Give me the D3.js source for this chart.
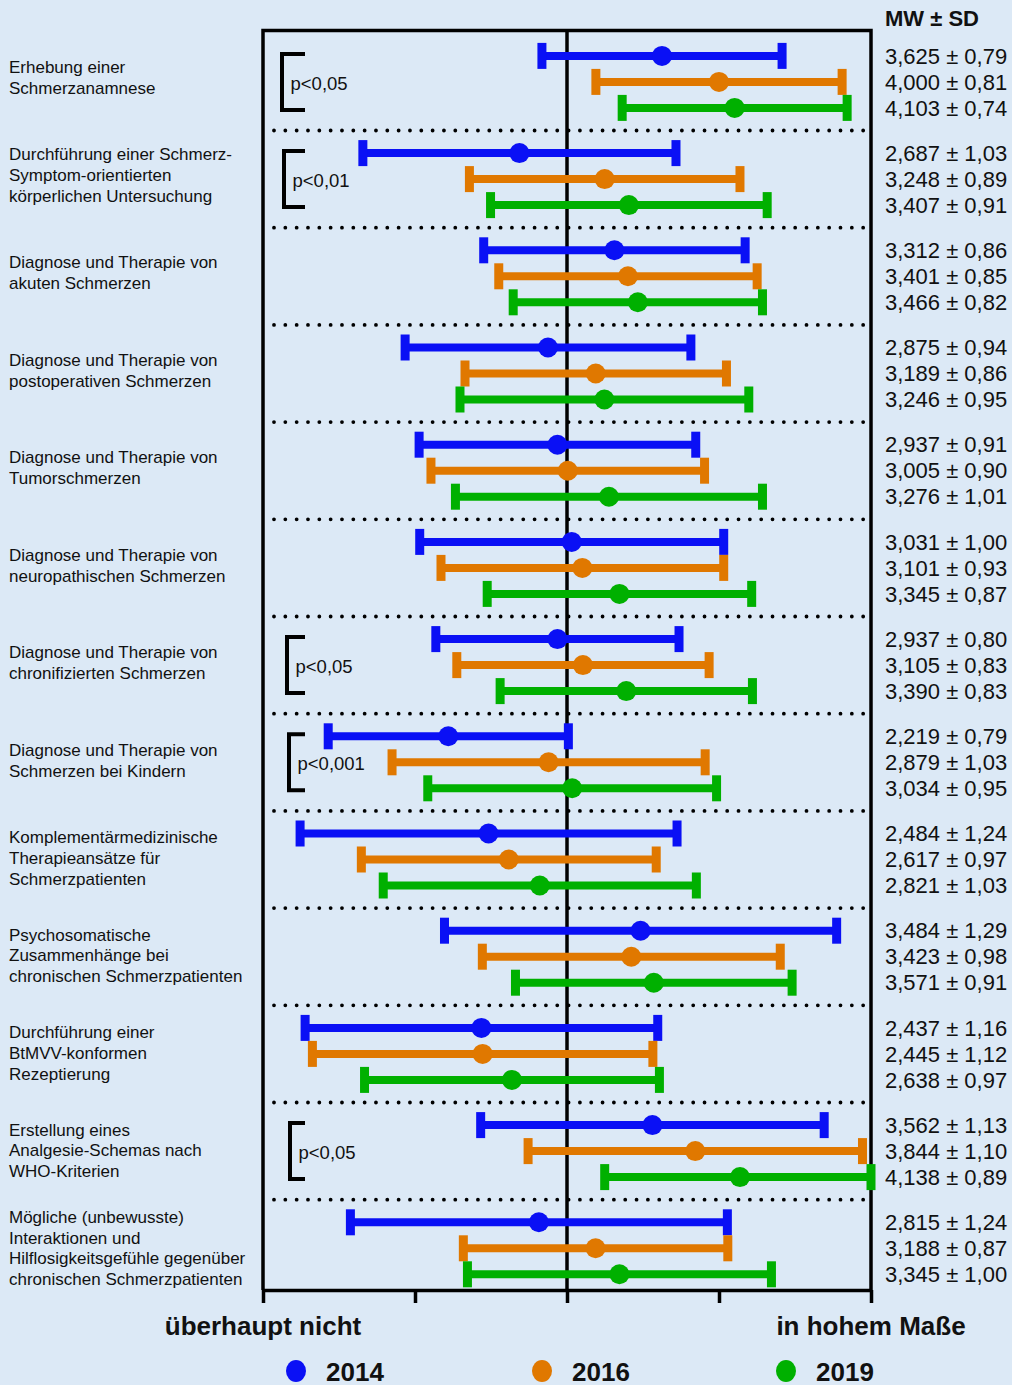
<!DOCTYPE html>
<html lang="de">
<head>
<meta charset="utf-8">
<title>Schmerzmedizinische Kompetenzen 2014 – 2016 – 2019</title>
<script src="https://cdn.jsdelivr.net/npm/d3@7"></script>
<style>
  html, body { margin: 0; padding: 0; background: #dce9f6; }
  svg { display: block; font-family: "Liberation Sans", Arial, Helvetica, sans-serif; }
</style>
</head>
<body>
<svg id="chart" width="1012" height="1385"></svg>
<script>
// ---- data -------------------------------------------------------------
const categories = [
  ["Erhebung einer", "Schmerzanamnese"],
  ["Durchführung einer Schmerz-", "Symptom-orientierten", "körperlichen Untersuchung"],
  ["Diagnose und Therapie von", "akuten Schmerzen"],
  ["Diagnose und Therapie von", "postoperativen Schmerzen"],
  ["Diagnose und Therapie von", "Tumorschmerzen"],
  ["Diagnose und Therapie von", "neuropathischen Schmerzen"],
  ["Diagnose und Therapie von", "chronifizierten Schmerzen"],
  ["Diagnose und Therapie von", "Schmerzen bei Kindern"],
  ["Komplementärmedizinische", "Therapieansätze für", "Schmerzpatienten"],
  ["Psychosomatische", "Zusammenhänge bei", "chronischen Schmerzpatienten"],
  ["Durchführung einer", "BtMVV-konformen", "Rezeptierung"],
  ["Erstellung eines", "Analgesie-Schemas nach", "WHO-Kriterien"],
  ["Mögliche (unbewusste)", "Interaktionen und", "Hilflosigkeitsgefühle gegenüber", "chronischen Schmerzpatienten"]
];

const years = ["2014", "2016", "2019"];

const mean2014 = [3.625, 2.687, 3.312, 2.875, 2.937, 3.031, 2.937, 2.219, 2.484, 3.484, 2.437, 3.562, 2.815];
const sd2014   = [0.79, 1.03, 0.86, 0.94, 0.91, 1.00, 0.80, 0.79, 1.24, 1.29, 1.16, 1.13, 1.24];
const mean2016 = [4.000, 3.248, 3.401, 3.189, 3.005, 3.101, 3.105, 2.879, 2.617, 3.423, 2.445, 3.844, 3.188];
const sd2016   = [0.81, 0.89, 0.85, 0.86, 0.90, 0.93, 0.83, 1.03, 0.97, 0.98, 1.12, 1.10, 0.87];
const mean2019 = [4.103, 3.407, 3.466, 3.246, 3.276, 3.345, 3.390, 3.034, 2.821, 3.571, 2.638, 4.138, 3.345];
const sd2019   = [0.74, 0.91, 0.82, 0.95, 1.01, 0.87, 0.83, 0.95, 1.03, 0.91, 0.97, 0.89, 1.00];

const pValues = ["p<0,05", "p<0,01", null, null, null, null, "p<0,05", "p<0,001", null, null, null, "p<0,05", null];

const scaleTicks = [1, 2, 3, 4, 5];
const scaleEnds = ["überhaupt nicht", "in hohem Maße"];
const statsHeader = "MW ± SD";

// ---- layout -----------------------------------------------------------
const colors = { "2014": "#0a10f5", "2016": "#e07800", "2019": "#00b000" };
const plot = { left: 263, right: 871, top: 30.5, bottom: 1290 };
const bracketLeft = [282, 284, 0, 0, 0, 0, 287, 289, 0, 0, 0, 290, 0];

const svg = d3.select("#chart");
svg.append("rect").attr("width", 1012).attr("height", 1385).attr("fill", "#dce9f6");

const x = d3.scaleLinear().domain([1, 5]).range([plot.left, plot.right]);
const yGroup = d3.scaleBand().domain(d3.range(categories.length)).range([33.3, 33.3 + 97.2 * categories.length]);
const yRow = d3.scalePoint().domain(years).range([-26, 26]);
const yLabel = d3.scaleLinear().domain([0, categories.length - 1]).range([83.5, 1254]);

const locale = d3.formatLocale({ decimal: ",", thousands: ".", grouping: [3], currency: ["", " €"] });
const fMean = locale.format(".3f");
const fSd = locale.format(".2f");

const rows = [];
const series = { "2014": [mean2014, sd2014], "2016": [mean2016, sd2016], "2019": [mean2019, sd2019] };
categories.forEach((c, i) => {
  years.forEach(yr => {
    const m = series[yr][0][i], s = series[yr][1][i];
    rows.push({ group: i, year: yr, mean: m, sd: s });
  });
});
const rowY = d => yGroup(d.group) + yGroup.bandwidth() / 2 + yRow(d.year);
const clamp = v => Math.max(1, Math.min(5, v));

// ---- frame, centre line, separators ----------------------------------
const frame = svg.append("g").attr("stroke", "#000").attr("fill", "none");
frame.append("path")
  .attr("d", `M${plot.left},${plot.bottom}V${plot.top}H${plot.right}V${plot.bottom}`)
  .attr("stroke-width", 3.5);
frame.append("line")
  .attr("x1", x(3)).attr("x2", x(3)).attr("y1", plot.top).attr("y2", plot.bottom)
  .attr("stroke-width", 3.5);

svg.append("g")
  .selectAll("line")
  .data(d3.range(1, categories.length))
  .join("line")
  .attr("x1", 274).attr("x2", 868)
  .attr("y1", i => yGroup(i)).attr("y2", i => yGroup(i))
  .attr("stroke", "#000").attr("stroke-width", 3.8)
  .attr("stroke-linecap", "round").attr("stroke-dasharray", "0 11.33");

// bottom axis
const axis = svg.append("g")
  .attr("transform", `translate(0,${plot.bottom})`)
  .call(d3.axisBottom(x).tickValues(scaleTicks).tickFormat("").tickSize(13).tickSizeOuter(0));
axis.select(".domain").attr("stroke", "#000").attr("stroke-width", 3.5);
axis.selectAll(".tick line").attr("stroke", "#000").attr("stroke-width", 3.5);

// ---- category labels -------------------------------------------------
const labels = svg.append("g").attr("font-size", 17).attr("fill", "#111");
categories.forEach((lines, i) => {
  const mid = yLabel(i);
  const t = labels.append("text").attr("x", 9);
  lines.forEach((ln, k) => {
    t.append("tspan")
      .attr("x", 9)
      .attr("y", mid + (k - (lines.length - 1) / 2) * 20.8)
      .text(ln);
  });
});

// ---- significance brackets -------------------------------------------
const br = svg.append("g");
pValues.forEach((p, i) => {
  if (!p) return;
  const cy = yGroup(i) + yGroup.bandwidth() / 2;
  const bx = bracketLeft[i];
  br.append("path")
    .attr("d", `M305,${cy - 28}H${bx}V${cy + 28}H305`)
    .attr("fill", "none").attr("stroke", "#000").attr("stroke-width", 4);
  br.append("text")
    .attr("x", bx + 8.5).attr("y", cy + 8)
    .attr("font-size", 18.5).attr("fill", "#111")
    .text(p);
});

// ---- error bars ------------------------------------------------------
const bars = svg.append("g");
bars.selectAll("line.sd")
  .data(rows)
  .join("line")
  .attr("class", "sd")
  .attr("x1", d => x(clamp(d.mean - d.sd)))
  .attr("x2", d => x(clamp(d.mean + d.sd)))
  .attr("y1", rowY).attr("y2", rowY)
  .attr("stroke", d => colors[d.year]).attr("stroke-width", 8);

const caps = rows.flatMap(d => [
  { ...d, v: clamp(d.mean - d.sd) },
  { ...d, v: clamp(d.mean + d.sd) }
]);
bars.selectAll("rect.cap")
  .data(caps)
  .join("rect")
  .attr("class", "cap")
  .attr("x", d => x(d.v) - 4.5).attr("width", 9)
  .attr("y", d => rowY(d) - 13).attr("height", 26)
  .attr("fill", d => colors[d.year]);

bars.selectAll("circle")
  .data(rows)
  .join("circle")
  .attr("cx", d => x(d.mean)).attr("cy", rowY).attr("r", 10)
  .attr("fill", d => colors[d.year]);

// ---- MW ± SD column --------------------------------------------------
svg.append("text")
  .attr("x", 885).attr("y", 26)
  .attr("font-size", 22).attr("font-weight", "bold").attr("fill", "#111")
  .text(statsHeader);

svg.append("g")
  .selectAll("text")
  .data(rows)
  .join("text")
  .attr("x", 885).attr("y", d => rowY(d) + 7.7)
  .attr("font-size", 22).attr("fill", "#111")
  .text(d => `${fMean(d.mean)} ± ${fSd(d.sd)}`);

// ---- scale end labels ------------------------------------------------
svg.append("g")
  .selectAll("text")
  .data(scaleEnds)
  .join("text")
  .attr("x", (d, i) => x(i === 0 ? 1 : 5))
  .attr("y", 1335)
  .attr("text-anchor", "middle")
  .attr("font-size", 26).attr("font-weight", "bold").attr("fill", "#111")
  .text(d => d);

// ---- legend ----------------------------------------------------------
const legendX = [296, 542, 786];
const legend = svg.append("g")
  .selectAll("g")
  .data(years)
  .join("g")
  .attr("transform", (d, i) => `translate(${legendX[i]},1371)`);
legend.append("ellipse").attr("rx", 10).attr("ry", 11).attr("fill", d => colors[d]);
legend.append("text")
  .attr("x", 30).attr("y", 9.5)
  .attr("font-size", 26).attr("font-weight", "bold").attr("fill", "#111")
  .text(d => d);
</script>
</body>
</html>
